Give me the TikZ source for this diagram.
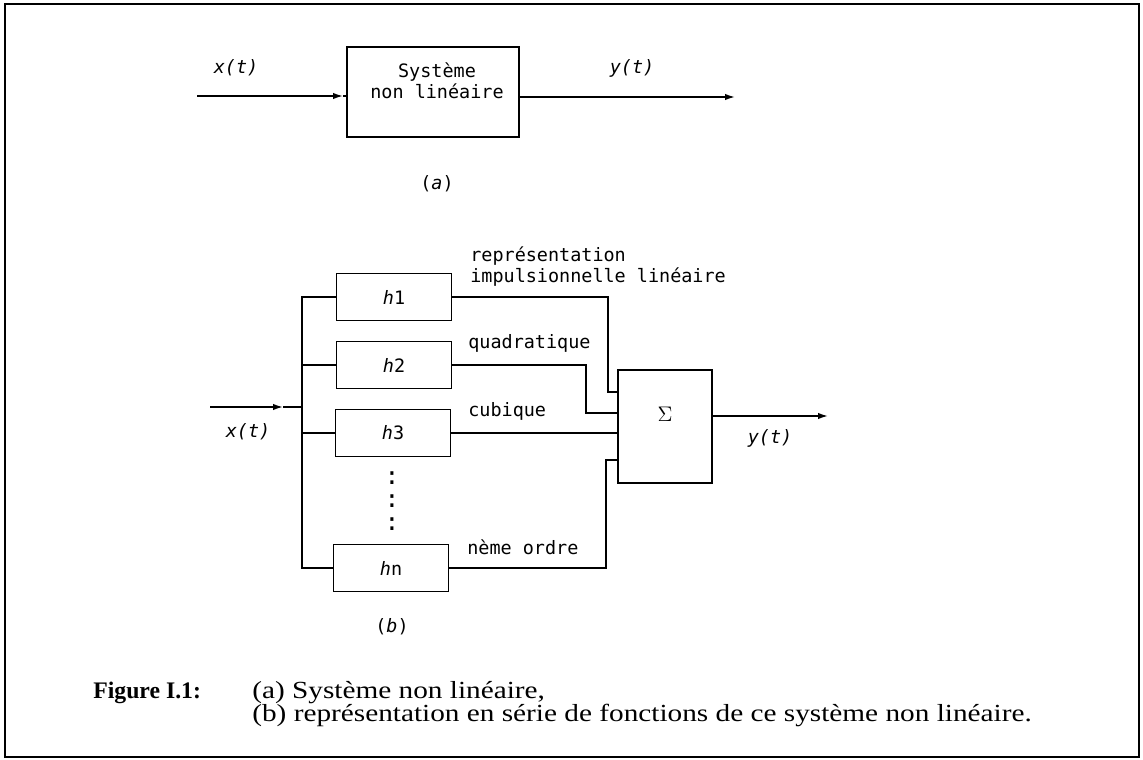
\documentclass[tikz,border=0pt]{standalone}
\usepackage{fontspec}
\setmainfont{Liberation Serif}
\setmonofont{DejaVu Sans Mono}
\newfontfamily\capfont[FakeStretch=1.19]{Liberation Serif}
\usetikzlibrary{arrows.meta}
\begin{document}
\begin{tikzpicture}[x=0.02cm,y=-0.02cm]
	\tikzstyle{block}=[draw,line width=0.9pt,inner sep=0pt]
	\tikzstyle{txt}=[inner sep=0pt,font=\fontsize{10.5}{12}\ttfamily]
	\tikzstyle{wire}=[draw,line width=0.9pt]
	\tikzstyle{edge}=[draw,line width=0.9pt,-{Latex[length=2mm,width=1.3mm]}]
	\tikzstyle{caption}=[inner sep=0pt,anchor=base west,font=\fontsize{14}{17}\capfont]
	\useasboundingbox (0,0) rectangle (1143,760);
	\draw[line width=1.4pt] (5,4) rectangle (1139,757);
	\begin{scope}
		\node [block,minimum width=3.44cm,minimum height=1.8cm] (sys) at (433,92) {};
		\node [txt,align=center] (systxt) at (437,81) {Système\\non linéaire};
		\coordinate (ain) at (197,96);
		\coordinate (atip) at (343,96);
		\coordinate (aout) at (735,97);
		\path[edge] (ain) -- (atip);
		\path[wire] (atip) -- (atip -| sys.west);
		\path[edge] (sys.east |- aout) -- (aout);
		\node [txt] (xa) at (236,68) {\textit{x(t)}};
		\node [txt] (ya) at (632,68) {\textit{y(t)}};
		\node [txt] (la) at (437,184) {(\textit{a})};
	\end{scope}
	\begin{scope}
		\node [block,minimum width=2.3cm,minimum height=0.94cm,txt] (h1) at (394,297) {\textit{h}1};
		\node [block,minimum width=2.3cm,minimum height=0.94cm,txt] (h2) at (394,365) {\textit{h}2};
		\node [block,minimum width=2.3cm,minimum height=0.94cm,txt] (h3) at (393,433) {\textit{h}3};
		\node [block,minimum width=2.3cm,minimum height=0.94cm,txt] (hn) at (391,568) {\textit{h}n};
		\node [txt,font=\fontsize{14}{14}\ttfamily] (d1) at (392,478) {:};
		\node [txt,font=\fontsize{14}{14}\ttfamily] (d2) at (392,501) {:};
		\node [txt,font=\fontsize{14}{14}\ttfamily] (d3) at (392,524) {:};
		\node [block,minimum width=1.88cm,minimum height=2.26cm] (sum) at (665,426.5) {};
		\node [txt,font=\fontsize{13}{13}\selectfont] (sig) at (665,414) {$\Sigma$};
		\coordinate (bbot) at (302,568);
		\coordinate (bin) at (210,407);
		\coordinate (btip) at (283,407);
		\coordinate (k1) at (608,392);
		\coordinate (k2) at (586,413);
		\coordinate (kn) at (606,460);
		\coordinate (bout) at (828,416);
		\path[wire] (h1.west) -| (bbot) -- (hn.west);
		\path[wire] (h2.west) -- (h2.west -| bbot);
		\path[wire] (h3.west) -- (h3.west -| bbot);
		\path[edge] (bin) -- (btip);
		\path[wire] (btip) -- (btip -| bbot);
		\path[wire] (h1.east) -| (k1) -- (k1 -| sum.west);
		\path[wire] (h2.east) -| (k2) -- (k2 -| sum.west);
		\path[wire] (h3.east) -- (h3.east -| sum.west);
		\path[wire] (hn.east) -| (kn) -- (kn -| sum.west);
		\path[edge] (sum.east |- bout) -- (bout);
		\node [txt,anchor=west,align=left] (l1) at (470,267) {représentation\\impulsionnelle linéaire};
		\node [txt,anchor=west] (l2) at (468,343) {quadratique};
		\node [txt,anchor=west] (l3) at (468,411) {cubique};
		\node [txt,anchor=west] (l4) at (467,547) {nème ordre};
		\node [txt] (xb) at (248,432) {\textit{x(t)}};
		\node [txt] (yb) at (770,438) {\textit{y(t)}};
		\node [txt] (lb) at (392,627) {(\textit{b})};
	\end{scope}
	\node [caption,font=\fontsize{13.5}{17}\bfseries] (fig) at (93,698) {Figure I.1:};
	\node [caption] (cap1) at (252,698) {(a) Système non linéaire,};
	\node [caption] (cap2) at (252,721) {(b) représentation en série de fonctions de ce système non linéaire.};
\end{tikzpicture}
\end{document}
